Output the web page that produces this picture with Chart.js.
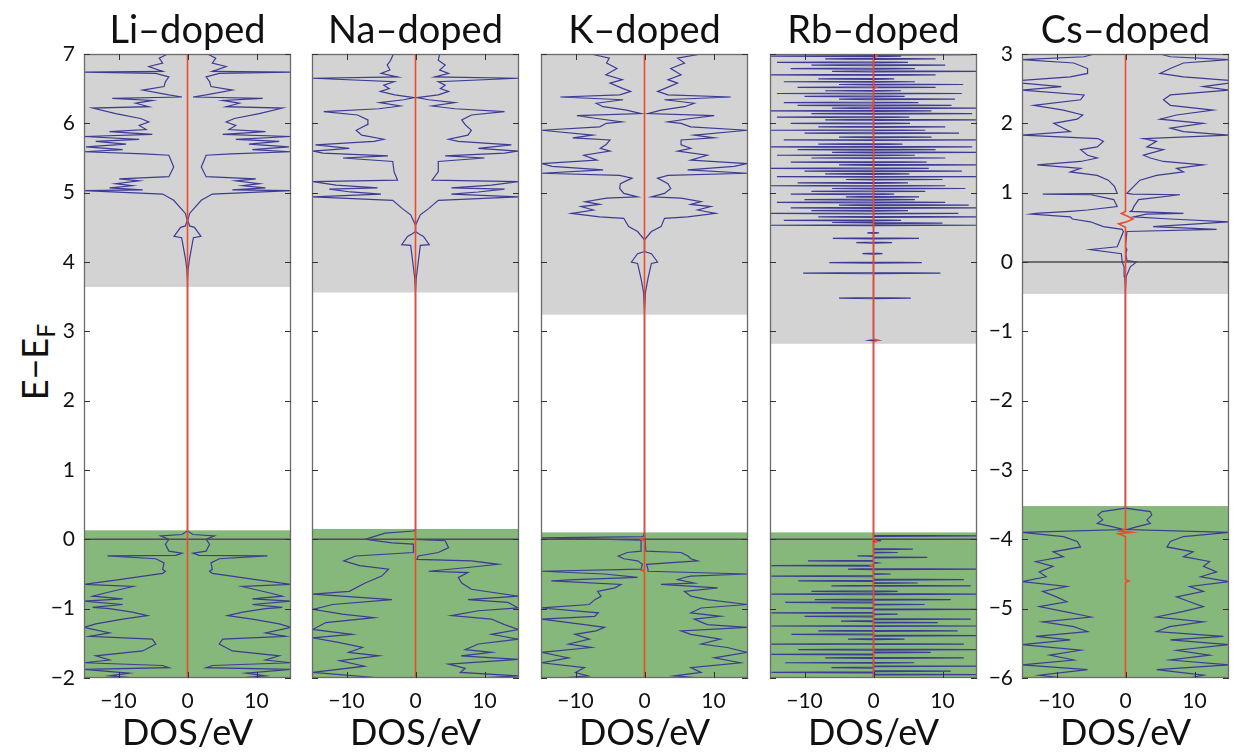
<!DOCTYPE html>
<html>
<head>
<meta charset="utf-8">
<script src="https://cdn.jsdelivr.net/npm/chart.js@4.4.1/dist/chart.umd.min.js"></script>
<style>
  body { margin: 0; background: #fff; width: 1233px; height: 755px; position: relative; overflow: hidden; font-family: Lato, sans-serif; }
  .panel { position: absolute; top: 0; }
  #ylab { position: absolute; left: 36px; top: 362px; transform: translate(-50%, -50%) rotate(-90deg); font-size: 36px; white-space: nowrap; color: #111; }
  #ylab sub { font-size: 25px; vertical-align: -0.3em; }
</style>
</head>
<body>
<div id="ylab">E−E<sub>F</sub></div>
<script>
// panel titles and axes
const titles = ['Li–doped', 'Na–doped', 'K–doped', 'Rb–doped', 'Cs–doped'];
const xTicks = [-10, 0, 10];
const yTicksMain = [-2, -1, 0, 1, 2, 3, 4, 5, 6, 7];
const yTicksCs = [-6, -5, -4, -3, -2, -1, 0, 1, 2, 3];
// shaded regions: bottom of grey (conduction) and top of green (valence), eV
const cbMin = [3.64, 3.56, 3.24, 2.82, -0.46];
const vbMax = [0.13, 0.15, 0.10, 0.10, -3.52];
const fermi = 0;

// DOS curves as [energy, DOS] pairs; "Up" drawn to the right, "Dn" to the left
const liUp = [[-2.0,7.5],[-1.97,11.3],[-1.93,8.5],[-1.875,15],[-1.85,2.7],[-1.82,3.6],[-1.78,15],[-1.74,11.3],[-1.68,13.3],[-1.61,6.5],[-1.51,4.6],[-1.44,5.1],[-1.4,14.2],[-1.35,11.3],[-1.27,15],[-1.22,13.3],[-1.15,9.4],[-1.1,5.8],[-1.05,8],[-1.0,11.3],[-0.98,13.75],[-0.94,9.4],[-0.89,15],[-0.86,9.4],[-0.82,13.75],[-0.77,11.8],[-0.68,7.9],[-0.65,15],[-0.58,9.9],[-0.49,3.6],[-0.46,3.2],[-0.43,3.6],[-0.34,3.4],[-0.28,4.6],[-0.24,11.6],[-0.23,1.7],[-0.2,0.8],[-0.17,2.7],[-0.07,3.2],[0,2.7],[0.05,3.9],[0.07,0.8],[0.12,0],[3.7,0],[3.9,0.1],[4.05,0.3],[4.35,0.85],[4.37,1.95],[4.5,1.0],[4.52,0.3],[4.6,0.05],[4.7,0.3],[4.89,2.0],[4.98,3.6],[5.03,15],[5.04,6.5],[5.07,11.3],[5.1,8],[5.13,10.4],[5.17,7],[5.2,9.9],[5.23,2.7],[5.37,2.0],[5.54,2.7],[5.56,6.3],[5.59,15],[5.62,9.4],[5.66,14.7],[5.7,8.9],[5.74,13.3],[5.77,7.0],[5.81,15],[5.84,5.1],[5.88,11.3],[5.91,6],[5.97,7],[6.02,5.6],[6.07,6.8],[6.14,10.4],[6.22,13.75],[6.24,5.6],[6.29,7.5],[6.33,5.1],[6.36,10.9],[6.38,0.8],[6.41,2.7],[6.48,6.5],[6.53,3.4],[6.6,3.2],[6.67,2.7],[6.72,4.6],[6.74,15],[6.75,3.6],[6.82,5.6],[6.87,3.6],[6.94,4.1],[7.0,2.9]];
const liDn = liUp;

const naUp = [[-2.0,9.1],[-1.97,14.9],[-1.92,6.5],[-1.86,7.2],[-1.8,4.8],[-1.73,14.9],[-1.68,6.6],[-1.63,11],[-1.59,7.2],[-1.51,9.1],[-1.44,14.9],[-1.37,11],[-1.3,14.9],[-1.23,12.9],[-1.15,11],[-1.1,5.2],[-1.03,9.1],[-0.99,14.9],[-0.91,13.4],[-0.87,7.6],[-0.82,14.9],[-0.72,8.1],[-0.63,6.7],[-0.55,6.2],[-0.48,7.6],[-0.46,1.9],[-0.41,7.2],[-0.36,12],[-0.31,8.1],[-0.29,0.2],[-0.24,0.4],[-0.19,3.3],[-0.12,4.8],[-0.02,4.3],[0,0],[0.12,0],[3.55,0],[3.76,0.1],[4.0,0.4],[4.24,0.7],[4.25,2.0],[4.37,1.15],[4.41,0.4],[4.44,0],[4.53,0],[4.68,0.7],[4.77,1.9],[4.89,3.3],[4.94,14.9],[4.98,5.2],[5.01,9.1],[5.05,12.9],[5.07,5.2],[5.11,11],[5.16,14.9],[5.18,2.4],[5.3,3.3],[5.45,3.3],[5.5,10],[5.53,4.3],[5.57,12.9],[5.6,14.9],[5.64,9.1],[5.69,13.9],[5.74,6.2],[5.77,4.8],[5.83,7.6],[5.9,8.1],[5.98,7.2],[6.05,6.7],[6.12,8.1],[6.17,12.9],[6.21,5.7],[6.25,2.4],[6.3,5.7],[6.34,1.9],[6.37,0.2],[6.41,3.3],[6.46,4.8],[6.5,3.6],[6.55,4.3],[6.6,3.3],[6.65,14.9],[6.67,2.8],[6.72,4.8],[6.77,3.5],[6.84,4.3],[6.91,3.3],[7.0,3.5]];
const naDn = [[-2.0,4.9],[-1.92,14.9],[-1.83,7.4],[-1.75,11],[-1.68,5.3],[-1.63,9.7],[-1.56,7.7],[-1.49,11],[-1.42,14.9],[-1.37,9.2],[-1.3,14.9],[-1.2,13],[-1.13,6],[-1.08,10.6],[-1.01,14.9],[-0.94,12],[-0.87,3.4],[-0.79,14.9],[-0.75,9.6],[-0.63,7.3],[-0.53,4.9],[-0.43,3.9],[-0.38,8.1],[-0.31,10.4],[-0.24,8.7],[-0.19,0.3],[-0.07,0.3],[-0.05,3.4],[0,7.3],[0.09,4.4],[0.12,0.3],[0.14,0],[3.55,0],[3.76,0.1],[4.0,0.4],[4.24,0.7],[4.25,2.0],[4.37,1.15],[4.41,0.4],[4.44,0],[4.53,0],[4.68,0.7],[4.77,1.9],[4.89,3.3],[4.94,14.9],[4.98,5.0],[5.01,9.4],[5.05,12.5],[5.07,5.5],[5.11,11.5],[5.16,14.9],[5.18,2.6],[5.3,3.1],[5.45,3.3],[5.5,10.5],[5.53,4.0],[5.57,13.4],[5.6,14.9],[5.64,9.6],[5.69,14.5],[5.74,6.0],[5.77,4.6],[5.83,7.8],[5.9,8.6],[5.98,7.0],[6.05,6.9],[6.12,8.4],[6.17,13.3],[6.21,5.3],[6.25,2.2],[6.3,5.2],[6.34,1.7],[6.37,0.2],[6.41,3.0],[6.46,5.1],[6.5,3.8],[6.55,4.6],[6.6,3.1],[6.65,14.9],[6.67,2.6],[6.72,5.0],[6.77,3.7],[6.84,4.1],[6.91,3.6],[7.0,3.2]];

const kUp = [[-2.0,8.2],[-1.97,4.3],[-1.92,8.2],[-1.85,6.7],[-1.78,13.9],[-1.71,10.1],[-1.63,14.9],[-1.56,12],[-1.51,8.2],[-1.44,11],[-1.37,6.7],[-1.32,5.3],[-1.27,14.9],[-1.23,9.1],[-1.15,7.2],[-1.11,11],[-1.06,6.7],[-0.99,8.2],[-0.94,14.9],[-0.87,9.1],[-0.82,6.7],[-0.75,5.8],[-0.7,10.6],[-0.65,2.4],[-0.63,7.2],[-0.58,4.8],[-0.55,5.8],[-0.53,6.7],[-0.5,14.9],[-0.46,0.5],[-0.43,0.5],[-0.36,0.3],[-0.31,7.7],[-0.28,6.7],[-0.24,6.3],[-0.19,5.3],[-0.17,0.2],[0.1,0],[3.26,0],[3.57,0.15],[3.76,0.5],[3.98,1.0],[4.0,1.9],[4.12,1.0],[4.15,0],[4.32,0],[4.44,1.0],[4.51,2.4],[4.63,2.9],[4.65,6.25],[4.7,10.3],[4.75,7.7],[4.8,9.6],[4.83,6.7],[4.87,8.2],[4.92,5.3],[4.94,1.0],[4.99,2.9],[5.06,3.8],[5.13,3.4],[5.21,1.9],[5.25,3.4],[5.28,14.9],[5.33,6.25],[5.38,13],[5.42,14.9],[5.47,6.7],[5.54,9.1],[5.6,4.8],[5.64,6.7],[5.69,5.3],[5.76,5.3],[5.79,10.1],[5.83,7.2],[5.9,14.9],[5.95,6.7],[6.0,5.3],[6.02,3.4],[6.07,6.7],[6.11,10.1],[6.14,0.5],[6.19,2.4],[6.24,5.8],[6.29,7.2],[6.34,2.9],[6.38,12.5],[6.41,3.4],[6.46,1.9],[6.5,2.9],[6.58,4.8],[6.63,3.4],[6.7,5.3],[6.79,3.8],[6.87,5.8],[6.94,4.8],[7.0,8.2]];
const kDn = [[-2.0,12],[-1.97,8.2],[-1.92,10],[-1.85,8.7],[-1.78,14.9],[-1.71,11],[-1.63,14.9],[-1.56,7.7],[-1.51,11],[-1.44,8],[-1.37,10.1],[-1.32,7],[-1.27,5.8],[-1.23,8.7],[-1.15,14.9],[-1.11,7.2],[-1.06,6.7],[-0.99,14.9],[-0.94,8],[-0.87,7.2],[-0.82,6.3],[-0.75,6.8],[-0.7,4.3],[-0.65,3.4],[-0.6,13.5],[-0.58,10.1],[-0.55,1.0],[-0.5,5.8],[-0.46,14.9],[-0.43,0.5],[-0.36,0.3],[-0.31,1],[-0.28,3],[-0.24,3.8],[-0.19,2.5],[-0.17,0.5],[-0.01,0.5],[0.02,14.9],[0.04,0.2],[0.1,0],[3.26,0],[3.57,0.15],[3.76,0.5],[3.98,1.0],[4.0,1.9],[4.12,1.0],[4.15,0],[4.32,0],[4.44,1.0],[4.51,2.3],[4.63,3.0],[4.65,6.5],[4.7,10.6],[4.75,7.4],[4.8,9.2],[4.83,6.5],[4.87,8.6],[4.92,5.5],[4.94,1.0],[4.99,3.0],[5.06,3.6],[5.13,3.5],[5.21,1.8],[5.25,3.6],[5.28,14.9],[5.33,6.0],[5.38,13.4],[5.42,14.9],[5.47,6.9],[5.54,8.8],[5.6,5.0],[5.64,6.4],[5.69,5.6],[5.76,5.0],[5.79,10.4],[5.83,7.5],[5.9,14.9],[5.95,6.5],[6.0,5.5],[6.02,3.3],[6.07,6.9],[6.11,9.8],[6.14,0.5],[6.19,2.6],[6.24,6.0],[6.29,7.0],[6.34,3.1],[6.38,12.2],[6.41,3.6],[6.46,2.0],[6.5,3.1],[6.58,5.0],[6.63,3.2],[6.7,5.6],[6.79,4.0],[6.87,5.5],[6.94,5.1],[7.0,7.8]];

// Rb is a comb of narrow peaks rising from the centre line: [energy, peak DOS]
const rbUpPeaks = [[-2.0,9.3],[-1.95,15],[-1.9,11.2],[-1.83,15],[-1.78,5.9],[-1.71,13.1],[-1.63,8.3],[-1.59,15],[-1.51,13.1],[-1.44,4.5],[-1.39,15],[-1.32,12.2],[-1.25,15],[-1.2,9.3],[-1.15,14.1],[-1.08,3.5],[-1.01,15],[-0.94,7.4],[-0.87,11.2],[-0.79,15],[-0.75,3.5],[-0.67,14.1],[-0.63,6.4],[-0.58,13.1],[-0.5,2.5],[-0.43,15],[-0.34,0.6],[-0.26,7.8],[-0.19,3.5],[-0.14,5.7],[-0.02,1.1],[0.05,15],[2.87,0.6],[3.48,5.4],[3.84,9.7],[3.99,7],[4.12,1.3],[4.28,2.7],[4.34,6.6],[4.42,0.8],[4.53,15],[4.56,10],[4.6,4],[4.65,15],[4.7,12.3],[4.74,5],[4.78,15],[4.82,13.8],[4.86,10.4],[4.9,6],[4.94,6.6],[4.98,3],[5.02,7.5],[5.06,13.3],[5.1,10.4],[5.14,5],[5.19,10],[5.23,15],[5.27,5.2],[5.31,12.8],[5.35,8],[5.4,15],[5.44,7.7],[5.5,10.4],[5.54,6],[5.58,15],[5.62,9],[5.66,14.3],[5.7,4.2],[5.76,15],[5.8,8.4],[5.86,12.4],[5.9,7.5],[5.95,10.4],[6.0,5.3],[6.05,15],[6.09,5.2],[6.14,14.3],[6.18,8.4],[6.22,15],[6.26,11.3],[6.3,6.5],[6.35,11.8],[6.39,4.5],[6.43,12.8],[6.47,4],[6.52,9],[6.56,13],[6.6,6],[6.64,3],[6.7,9],[6.75,15],[6.79,6],[6.84,10.4],[6.88,5],[6.93,9],[6.97,4],[6.99,14.3]];
const rbDnPeaks = [[-2.0,9.9],[-1.92,14.8],[-1.85,6.1],[-1.78,12.8],[-1.71,7],[-1.66,14.8],[-1.59,10.9],[-1.51,14.8],[-1.44,3.7],[-1.37,11.9],[-1.32,8],[-1.25,14.8],[-1.18,4.7],[-1.11,10],[-1.06,14.8],[-0.99,6.1],[-0.91,12.8],[-0.87,8.5],[-0.79,14.8],[-0.75,9],[-0.67,6.1],[-0.6,10.9],[-0.53,14.8],[-0.43,3.7],[-0.38,14.8],[-0.31,9.5],[-0.24,2.3],[2.87,0.6],[3.48,5.0],[3.84,10.2],[3.99,6.4],[4.12,1.6],[4.28,2.5],[4.34,5.9],[4.42,0.9],[4.53,15],[4.57,6],[4.6,13],[4.65,8],[4.7,15],[4.74,9],[4.78,12],[4.82,5],[4.86,14],[4.9,10],[4.94,4],[4.98,12],[5.02,9],[5.06,6],[5.1,15],[5.14,11],[5.19,4],[5.23,14],[5.27,7],[5.31,10],[5.35,15],[5.4,5],[5.44,12],[5.5,9],[5.54,14],[5.58,6],[5.62,11],[5.66,15],[5.7,8],[5.76,13],[5.8,5],[5.86,10],[5.9,15],[5.95,8],[6.0,12],[6.05,7],[6.09,14],[6.14,9],[6.18,15],[6.22,6],[6.26,11],[6.3,13],[6.35,5],[6.39,10],[6.43,14],[6.47,7],[6.52,11],[6.56,5],[6.6,13],[6.64,8],[6.7,15],[6.75,6],[6.79,12],[6.84,9],[6.88,14],[6.93,7],[6.97,15]];

const csUp = [[-6.02,8.1],[-5.96,11.3],[-5.88,4.5],[-5.81,15],[-5.74,6.5],[-5.67,12.2],[-5.6,7.4],[-5.52,15],[-5.45,6.5],[-5.4,14.2],[-5.33,4.5],[-5.26,6.4],[-5.19,11.3],[-5.12,4.5],[-5.04,8.4],[-4.97,11.3],[-4.9,9.3],[-4.83,7.4],[-4.75,11.3],[-4.68,9.3],[-4.61,15],[-4.54,10.9],[-4.47,13.2],[-4.39,11.3],[-4.32,12.2],[-4.25,8.4],[-4.18,9.8],[-4.11,6],[-4.03,6.5],[-3.96,8.4],[-3.9,15],[-3.86,0.2],[-3.82,1.6],[-3.77,3.6],[-3.72,3.1],[-3.65,3.8],[-3.6,3.6],[-3.55,0],[-0.46,0],[-0.4,0],[-0.21,0.1],[-0.07,0.7],[0.0,1.6],[0.02,0.2],[0.12,0.05],[0.18,0.2],[0.22,0],[0.44,0.2],[0.47,13.2],[0.51,4.0],[0.58,15],[0.62,6.5],[0.65,1.2],[0.69,3],[0.7,8.4],[0.73,0.7],[0.75,1],[0.8,1.2],[0.9,1.9],[0.97,7.9],[0.98,1],[0.99,0.2],[1.09,1.2],[1.18,2.1],[1.25,4.5],[1.3,8.4],[1.35,7.4],[1.4,11.25],[1.45,5.5],[1.5,3.6],[1.54,2.6],[1.62,5.5],[1.66,3.1],[1.74,4.5],[1.78,2.6],[1.83,15],[1.88,8.4],[1.93,6.5],[2.0,11.25],[2.06,5],[2.12,7.4],[2.19,12.7],[2.26,6.5],[2.34,5.5],[2.41,6.5],[2.48,15],[2.53,11.25],[2.58,15],[2.62,15],[2.67,8.4],[2.72,5.0],[2.79,6.5],[2.87,8.4],[2.92,15],[2.96,6.5],[3.0,5.0]];
const csDn = [[-6.02,7],[-5.96,12.5],[-5.88,5.5],[-5.81,15],[-5.74,7.5],[-5.67,11],[-5.6,6.5],[-5.52,15],[-5.45,8],[-5.4,13],[-5.33,5.5],[-5.26,7.5],[-5.19,12],[-5.12,5],[-5.04,9],[-4.97,12.5],[-4.9,8.5],[-4.83,10],[-4.75,12],[-4.68,8.5],[-4.61,15],[-4.54,11.5],[-4.47,12.5],[-4.39,10.5],[-4.32,13],[-4.25,9],[-4.18,10.5],[-4.11,6.5],[-4.03,7],[-3.96,9],[-3.9,15],[-3.86,0.3],[-3.82,1.8],[-3.77,4.1],[-3.72,3.3],[-3.65,4.0],[-3.6,3.4],[-3.55,0],[-0.46,0],[-0.4,0.05],[-0.21,0.1],[-0.07,0.2],[0.0,0.5],[0.02,0.5],[0.12,0.6],[0.18,5.1],[0.22,1.2],[0.44,0.3],[0.47,0.5],[0.51,3.2],[0.58,5.1],[0.62,7.7],[0.65,8],[0.69,13.75],[0.7,13],[0.73,8],[0.75,5.5],[0.8,1.2],[0.9,1.7],[0.97,5],[0.98,12],[0.99,1.2],[1.09,1.6],[1.18,2.5],[1.25,4.1],[1.3,8],[1.35,6.5],[1.4,12.8],[1.45,6.5],[1.5,4.1],[1.54,5.5],[1.62,6.5],[1.66,4.1],[1.74,3.2],[1.78,4],[1.83,15],[1.88,8],[1.93,9],[2.0,10.4],[2.06,7],[2.12,6.2],[2.19,9],[2.26,13.3],[2.34,6.5],[2.41,6],[2.48,15],[2.53,9.3],[2.58,15],[2.62,15],[2.67,8],[2.72,5.5],[2.79,5.5],[2.87,7.5],[2.92,15],[2.96,6],[3.0,4.5]];

// red (net) curves, [energy, value]
const liNet = [[-2, 0], [7, 0]];
const naNet = [[-2, 0], [7, 0]];
const kNet = [[-2,0],[-0.46,0],[-0.45,-0.4],[-0.43,0],[-0.02,0],[0,-0.5],[0.02,0],[7,0]];
const rbNet = [[-2,0],[-0.4,0],[-0.38,-0.4],[-0.36,0],[-0.05,0],[-0.03,0.6],[-0.01,0],[2.85,0],[2.87,0.6],[2.89,0],[6.2,0],[6.22,-0.4],[6.24,0],[6.5,0],[6.52,0.4],[6.54,0],[6.95,0],[6.97,0.5],[6.99,0],[7,0]];
const csNet = [[-6,0],[-4.62,0],[-4.6,0.5],[-4.58,0],[-3.96,0],[-3.92,-1.0],[-3.9,0.9],[-3.88,-0.8],[-3.85,0],[-3.6,0],[0.5,0],[0.55,-1.0],[0.58,0.2],[0.62,1.1],[0.66,0.3],[0.7,-0.6],[0.73,0],[3,0]];

// layout
const plotLeft = [84, 312, 541, 770, 1022];
const AXW = 60, PW = 207, PR = 4;
const FONT = 'Lato';
const PEAK_HALF = 0.007; // half width of a comb peak, eV

// each comb peak leaves the centre line, reaches its height and comes back
const peaksToCurve = peaks => peaks.flatMap(p => [[p[0] - PEAK_HALF, 0], [p[0], p[1]], [p[0] + PEAK_HALF, 0]]);
const upSets = [liUp, naUp, kUp, peaksToCurve(rbUpPeaks), csUp];
const dnSets = [liDn, naDn, kDn, peaksToCurve(rbDnPeaks), csDn];
const netSets = [liNet, naNet, kNet, rbNet, csNet];

const minus = v => (v < 0 ? '−' + Math.abs(v) : String(v));
const toPts = (arr, sign) => arr.map(p => ({ x: sign * p[1], y: p[0] }));

const bandPlugin = {
  id: 'bands',
  beforeDatasetsDraw(chart, args, opts) {
    const { ctx, chartArea: a, scales: { y } } = chart;
    ctx.save();
    const yc = y.getPixelForValue(opts.cb);
    ctx.fillStyle = '#d3d3d3';
    ctx.fillRect(a.left, a.top, a.right - a.left, yc - a.top);
    const yv = y.getPixelForValue(opts.vb);
    ctx.fillStyle = '#86b77b';
    ctx.fillRect(a.left, yv, a.right - a.left, a.bottom - yv);
    ctx.restore();
  }
};

const framePlugin = {
  id: 'frame',
  afterDraw(chart) {
    const { ctx, chartArea: a, scales: { x, y } } = chart;
    ctx.save();
    ctx.strokeStyle = '#6b6b6b';
    ctx.lineWidth = 1.3;
    ctx.strokeRect(a.left + 0.5, a.top + 0.5, a.right - a.left - 1, a.bottom - a.top - 1);
    ctx.strokeStyle = '#333';
    ctx.lineWidth = 1;
    ctx.beginPath();
    x.ticks.forEach(t => {
      const px = Math.round(x.getPixelForValue(t.value)) + 0.5;
      ctx.moveTo(px, a.top); ctx.lineTo(px, a.top + 6);
      ctx.moveTo(px, a.bottom); ctx.lineTo(px, a.bottom - 6);
    });
    y.ticks.forEach(t => {
      const py = Math.round(y.getPixelForValue(t.value)) + 0.5;
      ctx.moveTo(a.left, py); ctx.lineTo(a.left + 6, py);
      ctx.moveTo(a.right, py); ctx.lineTo(a.right - 6, py);
    });
    ctx.stroke();
    ctx.restore();
  }
};

titles.forEach((title, i) => {
  const isCs = i === 4;
  const yTicks = isCs ? yTicksCs : yTicksMain;
  const div = document.createElement('div');
  div.className = 'panel';
  div.style.left = (plotLeft[i] - AXW) + 'px';
  const canvas = document.createElement('canvas');
  canvas.width = AXW + PW + PR;
  canvas.height = 755;
  div.appendChild(canvas);
  document.body.appendChild(div);

  new Chart(canvas, {
    type: 'scatter',
    data: {
      datasets: [
        { data: toPts(netSets[i], 1), showLine: true, borderColor: '#ee4a2b', borderWidth: 1.6, pointRadius: 0 },
        { data: [{ x: -15, y: fermi }, { x: 15, y: fermi }], showLine: true, borderColor: '#4d4d4d', borderWidth: 1.5, pointRadius: 0 },
        { data: toPts(upSets[i], 1), showLine: true, borderColor: '#3d3b94', borderWidth: 1.2, pointRadius: 0 },
        { data: toPts(dnSets[i], -1), showLine: true, borderColor: '#3d3b94', borderWidth: 1.2, pointRadius: 0 }
      ]
    },
    options: {
      responsive: false,
      animation: false,
      devicePixelRatio: 1,
      layout: { padding: { left: 0, right: PR, top: 0, bottom: 0 } },
      plugins: {
        legend: { display: false },
        tooltip: { enabled: false },
        // fullSize false: title spans the plot area only, so it centres over the plot
        title: { display: true, fullSize: false, text: title, color: '#111', font: { family: FONT, size: 38, weight: 'normal', lineHeight: 1.2 }, padding: { top: 8.4, bottom: 0 } },
        bands: { cb: cbMin[i], vb: vbMax[i] }
      },
      scales: {
        x: {
          type: 'linear', min: -15, max: 15,
          afterBuildTicks: s => { s.ticks = xTicks.map(v => ({ value: v })); },
          afterFit: s => { s.height = 77; },
          grid: { display: false, drawTicks: false },
          border: { display: false },
          ticks: { padding: 11, color: '#111', font: { family: FONT, size: 21 }, callback: minus },
          title: { display: true, text: 'DOS/eV', color: '#111', font: { family: FONT, size: 36 }, padding: { top: 0, bottom: 0 } }
        },
        y: {
          type: 'linear', min: yTicks[0], max: yTicks[yTicks.length - 1],
          afterBuildTicks: s => { s.ticks = yTicks.map(v => ({ value: v })); },
          afterFit: s => { s.width = AXW; },
          grid: { display: false, drawTicks: false },
          border: { display: false },
          ticks: { display: i === 0 || isCs, padding: 9, color: '#111', font: { family: FONT, size: 21 }, callback: minus }
        }
      }
    },
    plugins: [bandPlugin, framePlugin]
  });
});
</script>
</body>
</html>
